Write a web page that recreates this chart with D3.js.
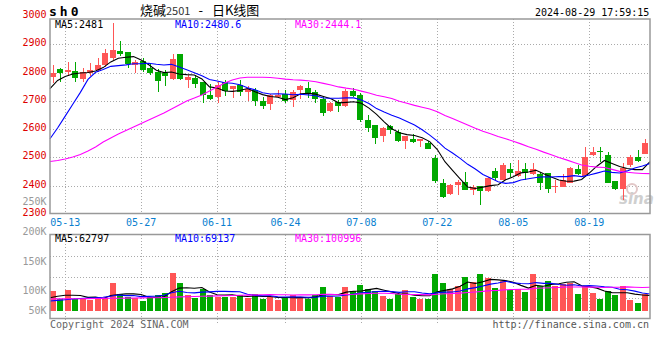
<!DOCTYPE html>
<html><head><meta charset="utf-8">
<script src="https://cdn.jsdelivr.net/npm/d3@7"></script>
<style>body{margin:0;background:#fff}svg{display:block}</style>
</head><body><svg id="c" width="660" height="360"></svg>
<script>
const dates = ["05-09","05-10","05-13","05-14","05-15","05-16","05-17","05-20","05-21","05-22","05-23","05-24","05-27","05-28","05-29","05-30","05-31",
"06-03","06-04","06-05","06-06","06-07","06-11","06-12","06-13","06-14","06-17","06-18","06-19","06-20","06-21","06-24","06-25","06-26","06-27","06-28",
"07-01","07-02","07-03","07-04","07-05","07-08","07-09","07-10","07-11","07-12","07-15","07-16","07-17","07-18","07-19","07-22","07-23","07-24","07-25","07-26","07-29","07-30","07-31",
"08-01","08-02","08-05","08-06","08-07","08-08","08-09","08-12","08-13","08-14","08-15","08-16","08-19","08-20","08-21","08-22","08-23","08-26","08-27","08-28","08-29"];

const open = [2786,2813,2802,2806,2780,2798,2809,2827,2851,2877, 2871,2827,2841,2815,2801,2798,2776,2865,2774,2782, 2765,2721,2715,2765,2742,2757,2733,2739,2701,2686, 2715,2724,2703,2737,2747,2732,2707,2663,2695,2682, 2736,2721,2633,2615,2576,2611,2591,2556,2565,2556, 2552,2499,2408,2370,2402,2414,2385,2399,2383,2451, 2422,2458,2434,2458,2443,2443,2445,2394,2396,2410, 2458,2434,2508,2523,2508,2417,2388,2473,2502,2514];
const high = [2827,2815,2839,2837,2815,2833,2851,2883,2976,2910, 2872,2845,2853,2833,2812,2809,2865,2867,2792,2792, 2765,2759,2765,2775,2753,2772,2751,2747,2713,2724, 2739,2739,2737,2756,2765,2739,2715,2697,2703,2742, 2745,2727,2651,2615,2609,2615,2597,2576,2582,2565, 2558,2508,2424,2405,2420,2450,2402,2400,2430,2464, 2479,2479,2490,2479,2479,2449,2445,2420,2443,2467, 2473,2538,2538,2538,2520,2417,2479,2508,2526,2564];
const low = [2762,2767,2788,2768,2768,2788,2803,2821,2845,2857, 2815,2800,2803,2792,2732,2752,2774,2772,2745,2745, 2694,2703,2694,2718,2709,2718,2700,2682,2671,2668, 2713,2694,2680,2707,2709,2692,2647,2659,2659,2678, 2715,2624,2591,2548,2556,2583,2554,2529,2550,2538, 2530,2411,2358,2367,2367,2385,2367,2331,2378,2419, 2419,2431,2431,2419,2437,2385,2373,2373,2394,2408, 2437,2431,2506,2484,2408,2385,2349,2467,2484,2514];
const close = [2800,2800,2809,2780,2803,2809,2827,2869,2881,2866, 2827,2839,2809,2798,2768,2786,2848,2776,2786,2760, 2718,2707,2757,2733,2753,2733,2742,2700,2682,2719, 2721,2701,2733,2751,2727,2707,2659,2692,2680,2736, 2718,2631,2606,2570,2604,2597,2558,2574,2554,2564, 2530,2418,2358,2401,2414,2385,2394,2381,2428,2428, 2475,2445,2451,2443,2460,2411,2388,2399,2420,2463, 2440,2502,2520,2521,2410,2388,2464,2502,2488,2552];

const ma5 = [2743,2772,2786,2795,2798.4,2800.2,2805.6,2817.6,2837.8,2850.4, 2854,2856.4,2844.4,2827.8,2808.2,2800,2801.8,2795.2,2792.8,2791.2, 2777.6,2749.4,2745.6,2735,2733.6,2736.6,2743.6,2732.2,2722,2715.2, 2712.8,2704.6,2711.2,2725,2726.6,2723.8,2715.4,2707.2,2693,2694.8, 2697,2691.4,2674.2,2652.2,2625.8,2601.6,2587,2580.6,2577.4,2569.4, 2556,2528,2484.8,2454.2,2424.2,2395.2,2390.4,2395,2400.4,2403.2, 2421.2,2431.4,2445.4,2448.4,2454.8,2442,2430.6,2420.2,2415.6,2416.2, 2422,2444.8,2469,2489.2,2478.6,2468.2,2460.6,2457,2456.8,2485.2];
const ma10 = [2566,2604,2646,2688,2730,2776,2801,2811,2822,2824.4, 2827.1,2831,2831,2832.8,2829.3,2827,2829.1,2819.8,2810.3,2799.7, 2788.8,2775.6,2770.4,2763.9,2762.4,2757.1,2746.5,2738.9,2728.5,2724.4, 2724.7,2724.1,2721.7,2723.5,2720.9,2718.3,2710,2709.2,2709,2710.7, 2710.4,2703.4,2690.7,2672.6,2660.3,2649.3,2639.2,2627.4,2614.8,2597.6, 2578.8,2557.5,2532.7,2515.8,2496.8,2475.6,2459.2,2439.9,2427.3,2413.7, 2408.2,2410.9,2420.2,2424.4,2429,2431.6,2431,2432.8,2432,2435.5, 2432,2437.7,2444.6,2452.1,2447.1,2444.8,2452.4,2462.7,2469.5,2478.4];
const ma30 = [2485.6,2489.2,2494.5,2501.6,2510.4,2522.8,2536.9,2554.6,2568.7,2582.9, 2595.3,2607.6,2620,2632.4,2644.8,2657.1,2671.3,2685.4,2699.6,2709.8, 2720.8,2734.9,2749.1,2763.2,2773.9,2781,2783.4,2783.7,2783.4,2782.8, 2780.2,2776.9,2774.4,2773.4,2770.9,2767.5,2761.9,2756,2749.3,2744.9, 2741.3,2734.4,2727.6,2720,2714.5,2708.2,2698.6,2691.8,2684.1,2677.6, 2671.3,2661.7,2648.4,2637.3,2626,2614.4,2602.8,2592.2,2583.7,2574, 2565.8,2557.3,2547.9,2537.6,2528.7,2518.8,2509.8,2500,2491.4,2482.3, 2473,2468.7,2465.8,2464.2,2457.7,2450.8,2447.6,2445.2,2443,2442.6];

// volume in thousand lots
const volume = [84.0,49.1,86.9,49.1,50.4,44.9,54.6,54.6,115.5,69.3, 58.8,54.6,40.7,58.8,65.9,74.3,159.6,116.3,65.9,54.6, 89.5,65.9,58.8,58.8,58.8,65.9,54.6,70.1,49.1,58.8, 44.9,54.6,65.9,54.6,49.1,65.9,100.8,63.0,58.8,100.8, 84.0,107.9,91.1,84.0,63.0,49.1,68.5,86.9,58.8,49.1, 49.1,154.1,116.3,89.5,103.7,139.9,121.8,154.1,137.3,93.7, 124.7,86.9,89.5,79.8,154.1,103.7,124.7,103.7,110.5,114.7, 70.1,103.7,74.3,49.1,82.7,67.2,103.7,44.9,31.5,71.4];
const vma5 = [54.6,60.9,65.1,65.1,63.9,56.1,57.2,50.7,64.0,67.8, 70.6,70.6,67.8,56.4,55.8,58.9,79.9,95.0,96.4,94.2, 97.2,78.5,66.9,65.5,66.4,61.7,59.4,61.7,59.7,59.7, 55.5,55.5,54.7,55.8,53.8,58.0,67.3,66.7,67.5,77.9, 81.5,82.9,88.5,93.6,86.0,79.0,71.1,70.3,65.3,62.5, 62.5,79.6,85.5,91.6,102.6,120.7,114.2,121.8,131.4,129.4, 126.3,119.4,106.4,94.9,107.0,102.8,110.4,113.2,119.4,121.5, 104.7,100.5,94.7,82.4,76.0,75.4,75.4,69.6,66.0,63.8];
const vma10 = [40.7,43.3,46.2,49.1,51.2,52.9,54.6,56.3,60.9,65.9, 63.3,63.9,59.3,60.2,61.8,64.7,75.2,81.4,76.4,75.0, 78.0,79.2,81.0,81.0,80.3,79.4,68.9,64.3,62.6,63.0, 58.6,57.5,58.2,57.8,56.8,56.8,61.4,60.7,61.7,65.9, 69.8,75.1,77.6,80.6,81.9,80.3,77.0,79.4,79.4,74.3, 70.8,75.4,77.9,78.5,82.5,91.6,96.9,103.7,111.5,116.0, 123.5,116.8,114.1,113.1,118.1,114.6,114.9,109.8,107.1,109.2, 103.8,105.5,104.0,100.9,98.8,90.1,88.0,82.1,74.2,69.9];
const vma30 = [49.1,49.6,50.0,50.4,50.4,50.8,51.2,51.7,52.1,52.5, 52.9,53.3,53.8,54.2,54.6,55.4,56.7,58.0,58.8,59.6, 60.5,61.3,62.2,63.0,63.8,64.7,65.5,66.4,67.2,68.0, 66.7,66.8,66.2,66.3,66.3,67.0,68.5,68.8,66.9,68.0, 68.8,70.6,72.2,73.1,73.0,72.2,69.1,68.1,67.9,67.7, 66.4,69.3,71.2,72.2,73.8,76.2,78.5,81.3,84.2,85.3, 88.0,89.1,89.9,90.7,94.2,95.5,96.3,97.7,99.4,99.8, 99.4,99.2,98.7,97.5,98.2,98.7,99.9,98.5,97.6,98.4];

const priceTicks = [2300,2400,2500,2600,2700,2800,2900,3000];
const volTicks = [50,100,150,200,250];
const dateTicks = ["05-13","05-27","06-11","06-24","07-08","07-22","08-05","08-19"];
const priceLegend = ["MA5:2481","MA10:2480.6","MA30:2444.1"];
const volLegend = ["MA5:62797","MA10:69137","MA30:100996"];
const legendColors = ["#000000","#0000ff","#ff00ff"];

const RED = "#ff5555", GREEN = "#00a800", MONO = "DejaVu Sans Mono, monospace";
const L = 50, R = 650, PT = 19, PB = 213.5, VT = 234.5, VB = 318.5;

const svg = d3.select("#c");
const x = d3.scaleBand().domain(dates).range([49, 649]).paddingInner(0.2).paddingOuter(0.1);
const bw = x.bandwidth();
const xg = d3.scalePoint().domain(dates).range([50, 650]);
const y = d3.scaleLinear().domain([2300, 3000]).range([214, 16]);
const yv = d3.scaleLinear().domain([0, 336]).range([310.7, 230.7]);
const yvLab = d3.scaleLinear().domain(volTicks).range([310.7, 290, 261, 231, 201]);
const cx = i => Math.round(x(dates[i]) + bw / 2) + 0.5;

// grids
const grid = svg.append("g").attr("stroke", "#aaaaaa").attr("stroke-dasharray", "1,2").attr("shape-rendering", "crispEdges");
priceTicks.filter(v => y(v) > PT + 2 && y(v) < PB - 2).forEach(v => {
  const yy = Math.round(y(v)) + 0.5;
  grid.append("line").attr("x1", L).attr("x2", R).attr("y1", yy).attr("y2", yy);
});
[0.25, 0.5, 0.75].forEach(f => {
  const yy = Math.round(VT + f * (VB - VT)) + 0.5;
  grid.append("line").attr("x1", L).attr("x2", R).attr("y1", yy).attr("y2", yy);
});
dateTicks.forEach(d => {
  const xx = Math.round(xg(d)) + 0.5;
  grid.append("line").attr("x1", xx).attr("x2", xx).attr("y1", PT).attr("y2", PB);
  grid.append("line").attr("x1", xx).attr("x2", xx).attr("y1", VT).attr("y2", VB + 4);
});

// watermark
const wm = svg.append("g");
wm.append("circle").attr("cx", 632).attr("cy", 189).attr("r", 5).attr("fill", "none").attr("stroke", "#e2c8c8").attr("stroke-width", 2);
wm.append("text").attr("x", 619).attr("y", 204).attr("font-family", "DejaVu Sans, sans-serif").attr("font-style", "italic")
  .attr("font-weight", "bold").attr("font-size", 15).attr("fill", "#cfcfcf").text("sina");

// candles
const cg = svg.append("g").attr("shape-rendering", "crispEdges");
dates.forEach((d, i) => {
  const up = close[i] >= open[i];
  const col = up ? RED : GREEN;
  const xx = cx(i);
  cg.append("line").attr("x1", xx).attr("x2", xx).attr("y1", y(high[i])).attr("y2", y(low[i])).attr("stroke", col);
  const top = y(Math.max(open[i], close[i])), bot = y(Math.min(open[i], close[i]));
  cg.append("rect").attr("x", Math.round(x(d))).attr("y", Math.round(top)).attr("width", Math.round(bw))
    .attr("height", Math.max(1, Math.round(bot - top))).attr("fill", col);
});

// price MA lines (span the full panel width like the original)
const lineP = d3.line().x((v, i) => xg(dates[i])).y(v => y(v));
[ma5, ma10, ma30].forEach((arr, k) => {
  svg.append("path").attr("d", lineP(arr)).attr("fill", "none").attr("stroke", legendColors[k]).attr("stroke-width", 1.1);
});

// volume bars
const vg = svg.append("g").attr("shape-rendering", "crispEdges");
dates.forEach((d, i) => {
  const col = close[i] >= open[i] ? RED : GREEN;
  vg.append("rect").attr("x", Math.round(x(d))).attr("y", Math.round(yv(volume[i])))
    .attr("width", Math.round(bw)).attr("height", Math.round(yv(0)) - Math.round(yv(volume[i]))).attr("fill", col);
});
const lineV = d3.line().x((v, i) => xg(dates[i])).y(v => yv(v));
[vma5, vma10, vma30].forEach((arr, k) => {
  svg.append("path").attr("d", lineV(arr)).attr("fill", "none").attr("stroke", legendColors[k]).attr("stroke-width", 1.1);
});

// frames
const fr = svg.append("g").attr("fill", "none").attr("stroke", "#999999").attr("stroke-width", 1.5);
fr.append("rect").attr("x", L).attr("y", PT).attr("width", R - L).attr("height", PB - PT);
fr.append("rect").attr("x", L).attr("y", VT).attr("width", R - L).attr("height", VB - VT);

// axis labels
const tx = svg.append("g").attr("font-family", MONO).attr("font-size", 10);
priceTicks.forEach(v => {
  tx.append("text").attr("x", 46.5).attr("y", y(v) - 1.5).attr("dy", "0.35em").attr("text-anchor", "end").attr("fill", "#dd0000").text(v);
});
volTicks.forEach(v => {
  tx.append("text").attr("x", 46.5).attr("y", yvLab(v)).attr("dy", "0.35em").attr("text-anchor", "end").attr("fill", "#999999").text(v + "K");
});
dateTicks.forEach(d => {
  tx.append("text").attr("x", xg(d)).attr("y", 225.5).attr("text-anchor", "middle").attr("fill", "#0a7fd0").text(d);
});

// legends
priceLegend.forEach((t, k) => {
  tx.append("text").attr("x", 55 + k * 120).attr("y", 28).attr("fill", legendColors[k]).text(t);
});
volLegend.forEach((t, k) => {
  tx.append("text").attr("x", 55 + k * 120).attr("y", 242).attr("fill", legendColors[k]).text(t);
});

// header
svg.append("text").attr("x", 49).attr("y", 16).attr("font-family", MONO).attr("font-weight", "bold")
  .attr("font-size", 13).attr("letter-spacing", 3).attr("fill", "#000").text("sh0");
const title = svg.append("text").attr("x", 140).attr("y", 15).attr("font-family", "Noto Sans CJK SC, sans-serif").attr("font-size", 13).attr("fill", "#000");
title.append("tspan").text("烧碱");
title.append("tspan").attr("font-size", 11).attr("fill", "#333").text("2501");
title.append("tspan").attr("dx", 8).text("-");
title.append("tspan").attr("dx", 9).text("日K线图");
svg.append("text").attr("x", 535).attr("y", 16).attr("font-family", MONO).attr("font-size", 10).attr("fill", "#000").text("2024-08-29 17:59:15");

// footer
svg.append("text").attr("x", 50).attr("y", 328).attr("font-family", MONO).attr("font-size", 10).attr("fill", "#666").text("Copyright 2024 SINA.COM");
svg.append("text").attr("x", 649).attr("y", 328).attr("text-anchor", "end").attr("font-family", MONO).attr("font-size", 10).attr("fill", "#555").text("http://finance.sina.com.cn");
</script></body></html>
